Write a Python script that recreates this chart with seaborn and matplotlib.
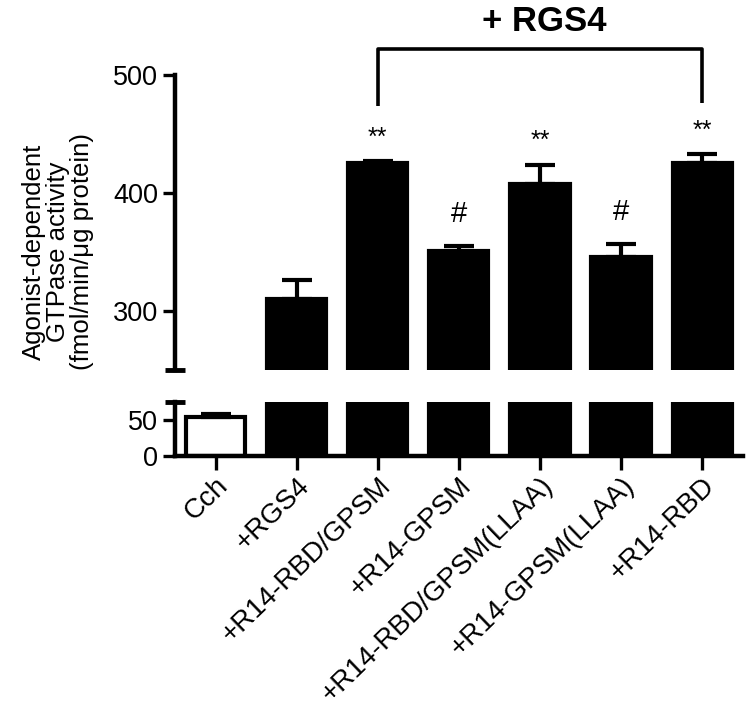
import numpy as np
import pandas as pd
import matplotlib
matplotlib.use("Agg")
import matplotlib.pyplot as plt
import seaborn as sns

"""Data read off the reference"""
conditions = ["Cch", "+RGS4", "+R14-RBD/GPSM", "+R14-GPSM",
              "+R14-RBD/GPSM(LLAA)", "+R14-GPSM(LLAA)", "+R14-RBD"]
activity = [54, 310, 425, 351, 408, 346, 425]
sem = [4, 16, 2, 4, 16, 11, 8]
marks = ["", "", "**", "#", "**", "#", "**"]
bar_colors = ["white", "black", "black", "black", "black", "black", "black"]

df = pd.DataFrame({"cond": conditions, "act": activity, "sem": sem})

sns.set_style("white", {"axes.edgecolor": "black", "text.color": "black",
                        "xtick.color": "black", "ytick.color": "black",
                        "axes.labelcolor": "black"})
plt.rcParams["font.family"] = ["Liberation Sans", "DejaVu Sans"]

fig = plt.figure(figsize=(7.5, 7.19), dpi=100)
ax_top = fig.add_axes([0.2333, 0.4854, 0.757, 0.4103])
ax_bot = fig.add_axes([0.2333, 0.3658, 0.757, 0.0751])

lw = 3
for ax in (ax_top, ax_bot):
    sns.barplot(data=df, x="cond", y="act", hue="cond", palette=bar_colors,
                order=conditions, hue_order=conditions, legend=False,
                width=0.73, edgecolor="black", linewidth=lw, errorbar=None, ax=ax)
    x = np.arange(len(conditions))
    ax.errorbar(x, df["act"], yerr=[np.zeros(len(x)), df["sem"]], fmt="none",
                ecolor="black", elinewidth=lw, capsize=11, capthick=lw)
    ax.set_xlim(-0.5, 6.5)
    ax.set_xlabel("")
    ax.set_ylabel("")
    for s in ("top", "right"):
        ax.spines[s].set_visible(False)
    ax.spines["left"].set_linewidth(3.2)
    ax.tick_params(axis="y", length=9, width=2.4, labelsize=19.5, pad=3,
                   direction="out", left=True, colors="black")

# top panel
ax_top.set_ylim(250, 500)
ax_top.set_yticks([300, 400, 500])
ax_top.spines["bottom"].set_visible(False)
ax_top.set_xticks([])
ax_top.plot([0], [250], marker="_", ms=14, mew=3.5, color="black",
            transform=ax_top.get_yaxis_transform(), clip_on=False)

# bottom panel
ax_bot.set_ylim(0, 75)
ax_bot.set_yticks([0, 50])
ax_bot.spines["bottom"].set_linewidth(3.2)
ax_bot.plot([0], [75], marker="_", ms=14, mew=3.5, color="black",
            transform=ax_bot.get_yaxis_transform(), clip_on=False)
ax_bot.tick_params(axis="x", length=10, width=2.4, bottom=True, direction="out",
                   pad=2, colors="black")
ax_bot.set_xticks(np.arange(len(conditions)))
ax_bot.set_xticklabels(conditions, rotation=44, ha="right", rotation_mode="anchor",
                       fontsize=20)

# significance marks
for i, m in enumerate(marks):
    if m == "**":
        ax_top.text(i, activity[i] + sem[i] + 20, m, ha="center", va="center",
                    fontsize=18)
    elif m == "#":
        ax_top.text(i, activity[i] + sem[i] + 27, m, ha="center", va="center",
                    fontsize=21)

# bracket for + RGS4
ax_top.plot([2, 2, 6, 6], [474, 522, 522, 476], color="black", lw=2.6,
            clip_on=False, solid_capstyle="butt")
ax_top.text(4.05, 545, "+ RGS4", ha="center", va="center", fontsize=25,
            fontweight="bold", clip_on=False)

fig.text(58 / 750, 1 - 252 / 719,
         "Agonist-dependent\nGTPase activity\n(fmol/min/\u03bcg protein)",
         rotation=90, ha="center", va="center", fontsize=18.5, linespacing=1.0)

plt.savefig("out.png", dpi=100)
